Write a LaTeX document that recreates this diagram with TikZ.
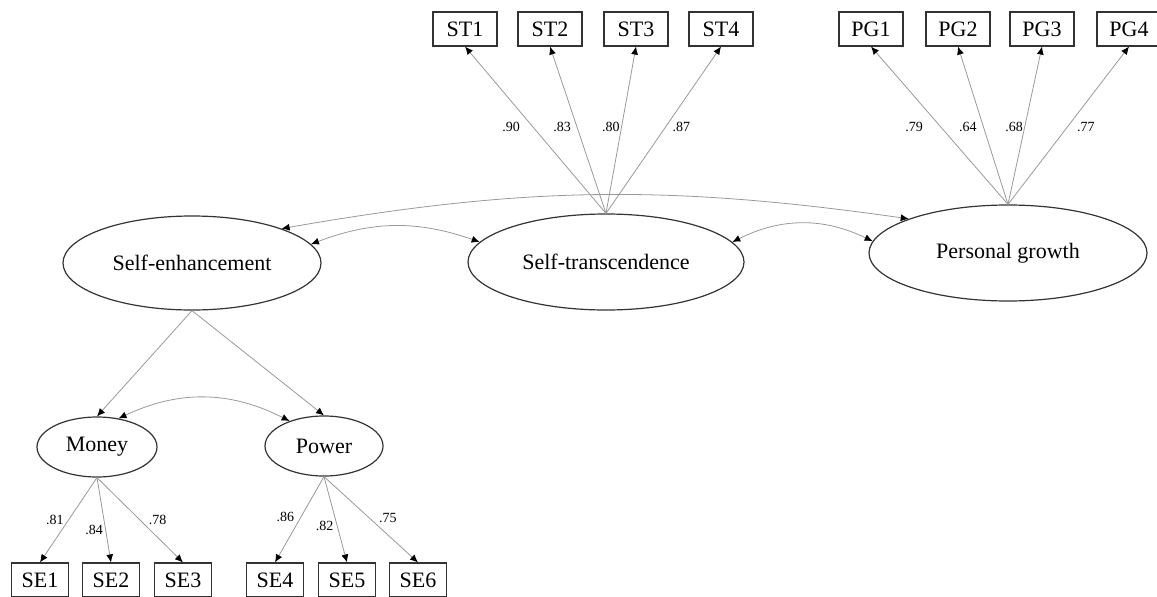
\documentclass[tikz,border=0pt]{standalone}
\usepackage{fontspec}
\setmainfont{Liberation Serif}
\usepackage{tikz}
\usetikzlibrary{arrows.meta, positioning, shapes.geometric}

\begin{document}
\begin{tikzpicture}[
  x=1pt, y=1pt,
  lat/.style={ellipse, draw=black!80, line width=1.2pt, inner sep=0pt, font=\fontsize{22}{26}\selectfont},
  obs/.style={rectangle, draw=black!80, line width=1.1pt, minimum width=64pt, minimum height=34pt, inner sep=0pt, font=\fontsize{22}{26}\selectfont},
  ld/.style={-{Latex[length=8pt, width=7pt, color=black]}, draw=black!40, line width=0.8pt},
  cov/.style={{Latex[length=8pt, width=7pt, color=black]}-{Latex[length=8pt, width=7pt, color=black]}, draw=black!40, line width=0.8pt},
  lbl/.style={font=\fontsize{14}{16}\selectfont, inner sep=0.5pt},
]
\useasboundingbox (0,0) rectangle (1157,-597);

%% Latent factors
\node[lat, minimum width=258pt, minimum height=94pt] (SE) at (192,-263)  {Self-enhancement};
\node[lat, minimum width=276pt, minimum height=96pt] (ST) at (606,-262)  {Self-transcendence};
\node[lat, minimum width=278pt, minimum height=96pt] (PG) at (1008,-253) {Personal growth};
\node[lat, minimum width=120pt, minimum height=60pt] (MO) at (97,-447)   {Money};
\node[lat, minimum width=118pt, minimum height=60pt] (PW) at (324,-446)  {Power};

%% Indicators
\node[obs] (ST1) at (465,-29) {ST1};
\node[obs] (ST2) at (550,-29) {ST2};
\node[obs] (ST3) at (636,-29) {ST3};
\node[obs] (ST4) at (721,-29) {ST4};

\node[obs] (PG1) at (871,-29)  {PG1};
\node[obs] (PG2) at (958,-29)  {PG2};
\node[obs] (PG3) at (1042,-29) {PG3};
\node[obs] (PG4) at (1129,-29) {PG4};

\node[obs, minimum width=57pt] (SE1) at (40,-580)  {SE1};
\node[obs, minimum width=57pt] (SE2) at (111,-580) {SE2};
\node[obs, minimum width=57pt] (SE3) at (183,-580) {SE3};
\node[obs, minimum width=57pt] (SE4) at (275,-580) {SE4};
\node[obs, minimum width=57pt] (SE5) at (347,-580) {SE5};
\node[obs, minimum width=57pt] (SE6) at (418,-580) {SE6};

%% Loadings
\draw[ld] (ST.north) -- node[lbl, pos=.52, left=12pt] {.90} (ST1.south);
\draw[ld] (ST.north) -- node[lbl, pos=.52, left=5pt]  {.83} (ST2.south);
\draw[ld] (ST.north) -- node[lbl, pos=.52, left=1pt]  {.80} (ST3.south);
\draw[ld] (ST.north) -- node[lbl, pos=.52, right=6pt] {.87} (ST4.south);

\draw[ld] (PG.north) -- node[lbl, pos=.49, left=17pt] {.79} (PG1.south);
\draw[ld] (PG.north) -- node[lbl, pos=.49, left=6pt]  {.64} (PG2.south);
\draw[ld] (PG.north) -- node[lbl, pos=.49, left=1pt]  {.68} (PG3.south);
\draw[ld] (PG.north) -- node[lbl, pos=.49, right=9pt] {.77} (PG4.south);

\draw[ld] (SE.south) -- (MO.north);
\draw[ld] (SE.south) -- (PW.north);

\draw[ld] (MO.south) -- node[lbl, pos=.5,  left=4pt]  {.81} (SE1.north);
\draw[ld] (MO.south) -- node[lbl, pos=.62, left=2pt]  {.84} (SE2.north);
\draw[ld] (MO.south) -- node[lbl, pos=.5,  right=8pt] {.78} (SE3.north);
\draw[ld] (PW.south) -- node[lbl, pos=.47, left=6pt]  {.86} (SE4.north);
\draw[ld] (PW.south) -- node[lbl, pos=.58, left=3pt]  {.82} (SE5.north);
\draw[ld] (PW.south) -- node[lbl, pos=.48, right=9pt] {.75} (SE6.north);

%% Covariances
\draw[cov] (SE.21) to[bend left=9]  (PG.161);
\draw[cov] (SE.9)  to[bend left=20] (ST.171);
\draw[cov] (ST.9)  to[bend left=26] (PG.175);
\draw[cov] (MO.53) to[bend left=26] (PW.144);

\end{tikzpicture}
\end{document}
